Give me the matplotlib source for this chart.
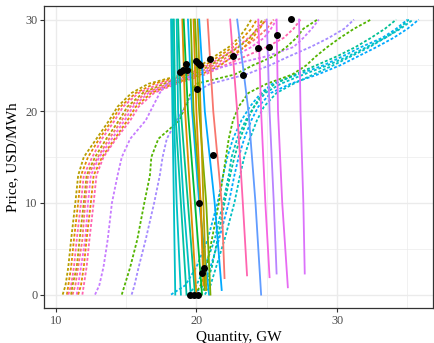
import matplotlib
matplotlib.use("Agg")
from matplotlib import pyplot as plt

plt.rcParams['font.family'] = ['Liberation Serif', 'DejaVu Serif']

## supply curves (dotted): quantity at each price level
price_levels = [0, 1, 3, 6, 10, 13, 15, 17, 19, 20.5, 22, 23, 24, 25, 26, 27, 28, 29, 30]

s_olive1 = [10.5, 10.7, 10.9, 11.1, 11.4, 11.6, 12.0, 12.9, 13.8, 14.4, 15.4, 16.6, 19.0, 20.3, 21.3, 22.3, 23.0, 23.5, 23.9]
s_orange1 = [10.8, 10.9, 11.1, 11.3, 11.6, 11.8, 12.3, 13.1, 14.0, 14.6, 15.7, 17.0, 19.3, 20.6, 21.6, 22.6, 23.3, 23.9, 24.3]
s_pink1 = [10.9, 11.1, 11.3, 11.5, 11.8, 12.0, 12.6, 13.3, 14.2, 14.8, 15.9, 17.4, 19.4, 20.8, 21.9, 22.9, 23.7, 24.4, 25.0]
s_olive2 = [11.1, 11.2, 11.5, 11.7, 12.0, 12.2, 12.8, 13.6, 14.5, 15.1, 16.2, 17.7, 19.7, 21.0, 22.0, 23.0, 23.8, 24.3, 24.7]
s_salmon = [11.2, 11.4, 11.6, 11.9, 12.1, 12.3, 13.0, 13.8, 14.7, 15.3, 16.4, 18.0, 19.9, 21.2, 22.3, 23.4, 24.3, 25.0, 25.5]
s_magenta = [11.5, 11.6, 11.8, 12.1, 12.3, 12.5, 13.1, 14.0, 14.9, 15.5, 16.6, 18.2, 20.1, 21.5, 22.7, 23.9, 24.8, 25.3, 25.7]
s_orange2 = [11.6, 11.8, 12.0, 12.2, 12.5, 12.7, 13.3, 14.2, 15.1, 15.7, 16.8, 18.4, 20.3, 21.7, 22.6, 23.4, 24.0, 24.5, 24.9]
s_pink2 = [11.9, 12.0, 12.2, 12.4, 12.7, 12.9, 13.4, 14.3, 15.3, 15.9, 17.0, 18.6, 20.6, 22.0, 23.5, 25.0, 26.2, 26.9, 27.4]
s_purple = [12.8, 13.1, 13.4, 13.7, 14.0, 14.4, 14.7, 15.3, 16.4, 16.9, 17.4, 17.9, 19.9, 22.3, 25.0, 26.9, 27.6, 28.2, 28.7]
s_green = [14.7, 14.9, 15.3, 15.8, 16.3, 16.7, 16.8, 17.3, 18.8, 19.2, 19.6, 20.0, 22.7, 24.0, 25.5, 26.4, 27.1, 27.6, 28.6]
s_lavender = [15.4, 15.6, 15.9, 16.4, 17.0, 17.4, 17.6, 17.9, 18.6, 19.2, 19.8, 21.0, 23.5, 25.2, 26.6, 28.1, 29.4, 30.5, 31.2]
s_blue1 = [18.2, 19.2, 20.0, 20.8, 21.5, 21.9, 22.2, 22.6, 23.2, 23.8, 24.6, 25.4, 27.2, 29.0, 30.4, 31.7, 33.2, 34.2, 35.0]
s_teal1 = [19.4, 20.0, 20.6, 21.3, 21.9, 22.3, 22.5, 22.9, 23.5, 24.1, 24.9, 26.0, 27.6, 29.3, 30.8, 32.1, 33.4, 34.5, 35.4]
s_blue2 = [19.8, 20.5, 21.0, 21.6, 22.3, 22.7, 23.0, 23.4, 23.9, 24.4, 25.3, 26.7, 28.6, 30.2, 31.5, 32.8, 34.0, 35.0, 35.8]
s_teal2 = [20.3, 20.7, 21.1, 21.5, 22.0, 22.4, 22.7, 23.1, 23.6, 24.1, 24.7, 25.6, 27.0, 28.5, 30.0, 31.3, 32.4, 33.4, 34.2]
s_teal3 = [20.6, 21.0, 21.4, 22.0, 22.7, 23.1, 23.4, 23.8, 24.3, 24.8, 25.7, 26.9, 28.3, 29.7, 31.0, 32.3, 33.4, 34.4, 35.1]
s_green2 = [19.9, 20.3, 20.7, 21.1, 21.6, 21.9, 22.1, 22.3, 22.6, 23.0, 23.7, 25.0, 26.8, 27.8, 28.5, 29.3, 30.2, 31.2, 32.4]

supply = [
    (s_olive1, "#B79F00"), (s_orange1, "#DE8C00"), (s_pink1, "#FF64B0"),
    (s_olive2, "#B79F00"), (s_salmon, "#F8766D"), (s_magenta, "#F564E3"),
    (s_orange2, "#DE8C00"), (s_pink2, "#FF64B0"), (s_purple, "#C77CFF"),
    (s_green, "#53B400"), (s_lavender, "#A58AFF"), (s_blue1, "#00B4F0"),
    (s_teal1, "#00BFC4"), (s_blue2, "#00A9FF"), (s_teal2, "#00C094"),
    (s_teal3, "#00BFC4"), (s_green2, "#53B400"),
]

## demand curves (solid): quantity at price 30, 20, 10 and at the end point
demand_q30 = [18.2, 18.3, 18.4, 18.6, 18.7, 19.0, 19.1, 19.4, 19.6, 19.8, 19.9, 20.1, 20.2, 20.8, 22.4, 22.9, 24.4, 25.0, 25.7, 27.3]
demand_q20 = [18.3, 18.4, 18.5, 18.7, 18.9, 19.2, 19.4, 19.7, 19.8, 20.0, 20.2, 20.3, 20.6, 21.2, 22.9, 23.7, 24.6, 25.2, 25.8, 27.4]
demand_q10 = [18.4, 18.6, 18.9, 19.1, 19.4, 19.6, 19.9, 20.2, 20.3, 20.3, 20.7, 20.5, 21.3, 21.8, 23.3, 24.2, 24.9, 25.5, 26.1, 27.6]
demand_qend = [18.5, 18.9, 19.3, 19.6, 19.9, 20.0, 20.4, 20.9, 20.6, 20.5, 21.0, 20.7, 21.8, 22.0, 23.6, 24.6, 25.2, 25.7, 26.5, 27.7]
demand_pend = [0.0, 0.0, 0.0, 0.0, 0.0, 0.0, 0.0, 0.0, 0.5, 1.0, 0.0, 0.5, 0.5, 1.8, 2.1, 0.0, 1.9, 2.3, 0.8, 2.3]
demand_colors = ["#00BFC4", "#00BFC4", "#00C1A3", "#00BFC4", "#00C08B", "#DE8C00",
                 "#00BA38", "#00B4F0", "#7CAE00", "#DE8C00", "#7CAE00", "#B79F00",
                 "#00A9FF", "#F8766D", "#FF64B0", "#619CFF", "#F564E3", "#B983FF",
                 "#E76BF3", "#DB72FB"]

## equilibrium points
eq_q = [18.84, 19.03, 19.27, 19.36, 19.96, 20.14, 20.26, 20.97, 22.63, 23.34, 24.41,
        25.17, 25.76, 26.71, 20.03, 21.17, 20.21, 20.57, 20.43, 19.55, 19.84, 20.12]
eq_p = [24.24, 24.53, 25.15, 24.5, 25.43, 25.22, 25.04, 25.7, 26.05, 23.99, 26.92,
        26.96, 28.37, 30.04, 22.43, 15.26, 10.02, 2.87, 2.33, 0, 0, 0]

fig = plt.figure(figsize=(4.35, 3.43), dpi=100)
ax = fig.add_axes([0.102, 0.101, 0.893, 0.882])

for q, c in supply:
    ax.plot(q, price_levels, color=c, lw=1.3, dashes=(1.6, 1.1), zorder=2)

for i in range(len(demand_q30)):
    qs = [demand_q30[i], demand_q20[i], demand_q10[i], demand_qend[i]]
    ps = [30, 20, 10, demand_pend[i]]
    ax.plot(qs, ps, color=demand_colors[i], lw=1.3, zorder=3)

ax.plot(eq_q, eq_p, "o", color="black", markersize=4, zorder=4)

ax.set_xlim(9.2, 36.8)
ax.set_ylim(-1.5, 31.5)
ax.set_xticks([10, 20, 30])
ax.set_yticks([0, 10, 20, 30])
ax.set_xticks([15, 25, 35], minor=True)
ax.set_yticks([5, 15, 25], minor=True)
ax.grid(which="major", color="#EBEBEB", lw=1.0, zorder=0)
ax.grid(which="minor", color="#EBEBEB", lw=0.5, zorder=0)
ax.set_axisbelow(True)
ax.tick_params(which="major", length=3, width=0.8, color="#333333", labelsize=8.8, labelcolor="#4D4D4D", pad=2)
ax.tick_params(which="minor", length=0)
for s in ax.spines.values():
    s.set_color("#333333")
    s.set_linewidth(0.9)

ax.set_xlabel("Quantity, GW", fontsize=11, labelpad=3)
ax.set_ylabel("Price, USD/MWh", fontsize=11, labelpad=4)

fig.savefig("out.png", dpi=100)
